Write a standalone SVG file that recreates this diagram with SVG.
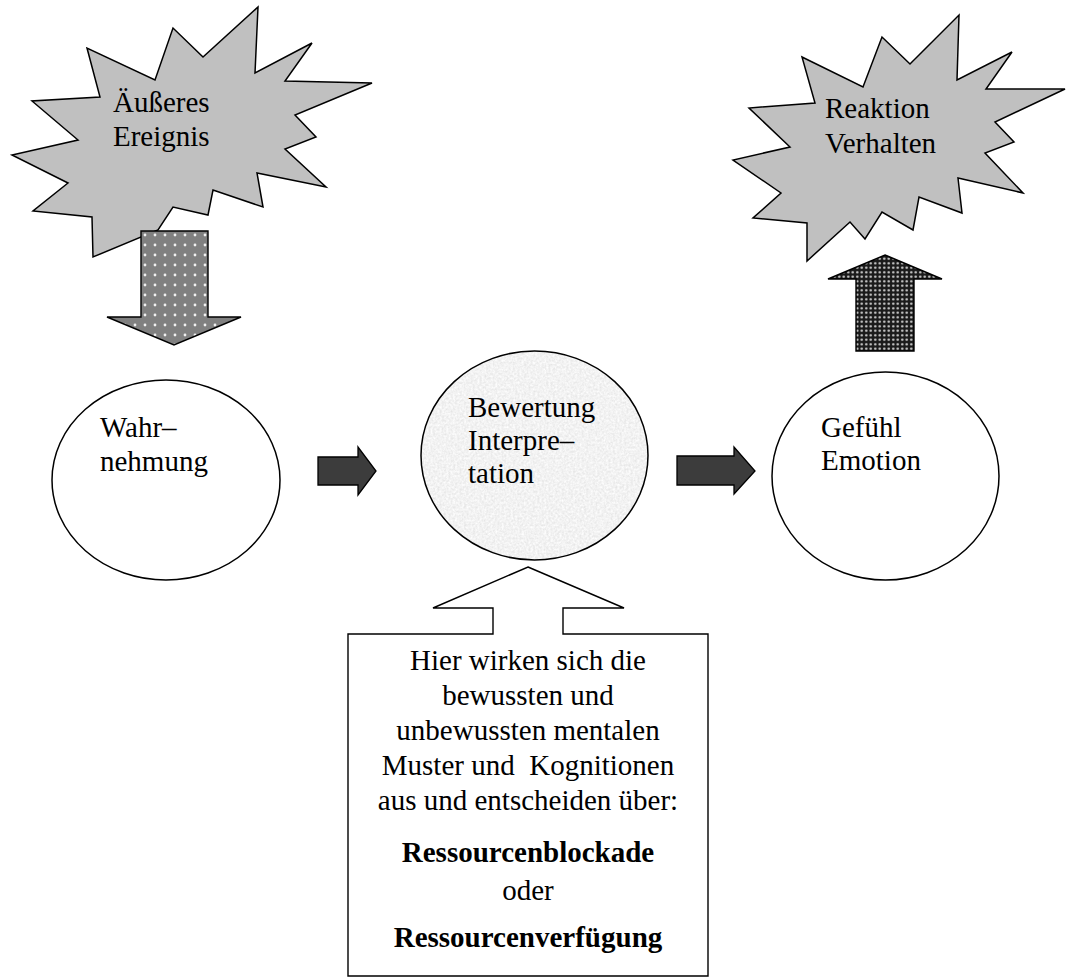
<svg xmlns="http://www.w3.org/2000/svg" width="1066" height="978" viewBox="0 0 1066 978">
<style>
text{font-family:"Liberation Serif","Times New Roman",serif;font-size:29px;fill:#000}
.b{font-weight:bold}
.burst{fill:#c0c0c0;stroke:#000;stroke-width:1.5;stroke-linejoin:miter}
.node{fill:#fff;stroke:#000;stroke-width:1.5}
.dark{fill:#3c3c3c;stroke:#000;stroke-width:1.3}
</style>
<defs>
<pattern id="dotsGray" width="10" height="10" patternUnits="userSpaceOnUse">
<rect width="10" height="10" fill="#808080"/>
<circle cx="5" cy="5" r="1.4" fill="#f0f0f0"/>
</pattern>
<pattern id="dotsDark" width="4.5" height="4.5" patternUnits="userSpaceOnUse">
<rect width="4.5" height="4.5" fill="#1a1a1a"/>
<circle cx="2.25" cy="2.25" r="1.2" fill="#d8d8d8"/>
</pattern>
<filter id="grain" x="0" y="0" width="100%" height="100%">
<feTurbulence type="fractalNoise" baseFrequency="0.45" numOctaves="2" seed="4" result="n"/>
<feColorMatrix in="n" type="matrix" values="0.3 0 0 0 0.74  0.3 0 0 0 0.74  0.3 0 0 0 0.74  0 0 0 0 1" result="g"/>
<feComposite in="g" in2="SourceGraphic" operator="in"/>
</filter>
</defs>

<g id="ereignis">
<polygon class="burst" points="258,7 255,73 312,43 285,81 372,83 295,115 316,137 285,149 326,187 257,173 263,207 213,190 208,215 173,207 158,230 93,257 92,217 33,211 68,183 12,155 78,140 32,101 100,97 87,48 155,80 173,28 203,57"/>
<text x="113" y="112">Äußeres</text>
<text x="113" y="146">Ereignis</text>
</g>

<g id="reaktion">
<polygon class="burst" points="959,15 957,80 1012,52 986,89 1065,89 995,122 1014,142 985,153 1023,193 958,178 962,213 919,197 913,230 882,212 865,239 850,222 807,261 807,223 753,218 781,193 733,160 790,147 749,108 815,103 802,57 863,87 882,37 910,64"/>
<text x="825" y="118">Reaktion</text>
<text x="825" y="153">Verhalten</text>
</g>

<g id="wahrnehmung">
<ellipse class="node" cx="166" cy="480" rx="114" ry="100"/>
<text x="100" y="437">Wahr–</text>
<text x="100" y="471">nehmung</text>
</g>

<g id="bewertung">
<ellipse cx="534.5" cy="455.5" rx="113.5" ry="104.5" fill="#e2e2e2"/>
<ellipse cx="534.5" cy="455.5" rx="113.5" ry="104.5" fill="#fff" filter="url(#grain)"/>
<ellipse cx="534.5" cy="455.5" rx="113.5" ry="104.5" fill="none" stroke="#000" stroke-width="1.5"/>
<text x="468" y="417">Bewertung</text>
<text x="468" y="450">Interpre–</text>
<text x="468" y="483">tation</text>
</g>

<g id="gefuehl">
<ellipse class="node" cx="885.5" cy="476" rx="113.5" ry="104"/>
<text x="821" y="437">Gefühl</text>
<text x="821" y="470">Emotion</text>
</g>

<g id="hinweis">
<path d="M528,567 L624,608 L563,608 L563,634 L708,634 L708,976 L348,976 L348,634 L493,634 L493,608 L433,608 Z" fill="#fff" stroke="#000" stroke-width="1.4"/>
<g text-anchor="middle">
<text x="528" y="670">Hier wirken sich die</text>
<text x="528" y="705">bewussten und</text>
<text x="528" y="740">unbewussten mentalen</text>
<text x="528" y="775">Muster und&#160; Kognitionen</text>
<text x="528" y="810">aus und entscheiden über:</text>
<text x="528" y="862" class="b">Ressourcenblockade</text>
<text x="528" y="900">oder</text>
<text x="528" y="947" class="b">Ressourcenverfügung</text>
</g>
</g>

<g id="connectors">
<polygon points="141,231 208,231 208,317 241,317 174,345 107,317 141,317" fill="url(#dotsGray)" stroke="#000" stroke-width="1.4"/>
<polygon points="885,255 942,279 914,279 914,351 856,351 856,279 828,279" fill="url(#dotsDark)" stroke="#000" stroke-width="1.4"/>
<polygon class="dark" points="318,457 358,457 358,447 376,471 358,495 358,485 318,485"/>
<polygon class="dark" points="677,456 734,456 734,447 755,471 734,494 734,485 677,485"/>
</g>
</svg>
